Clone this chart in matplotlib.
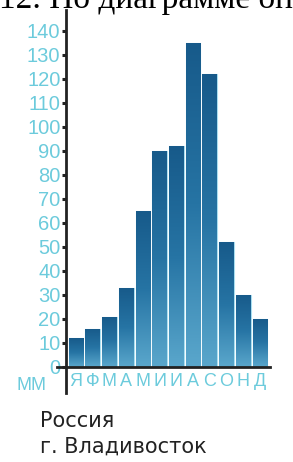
import matplotlib
matplotlib.use('Agg')
import numpy as np
import matplotlib.pyplot as plt
from matplotlib.colors import LinearSegmentedColormap

# Monthly precipitation, Vladivostok (mm)
months = ['Я', 'Ф', 'М', 'А', 'М', 'И', 'И', 'А', 'С', 'О', 'Н', 'Д']
precip = [12, 16, 21, 33, 65, 90, 92, 135, 122, 52, 30, 20]
yticks = list(range(0, 150, 10))

cyan = '#6ccbdc'
ink = '#222222'
sans = 'Liberation Sans'

fig = plt.figure(figsize=(2.93, 4.62), dpi=100)
ax = fig.add_axes([66 / 293, 1 - 367 / 462, 204 / 293, 357 / 462])

x = np.arange(len(months))
bars = ax.bar(x, precip, width=0.88, color='#2a7aaa', edgecolor='#a8def0', linewidth=0.8, zorder=2)

# vertical gradient inside every bar: dark at the top, lighter at the bottom
cmap = LinearSegmentedColormap.from_list('bar', ['#5aa7cc', '#2674a4', '#175a8a'])
grad = np.linspace(0, 1, 256).reshape(-1, 1)
for b in bars:
    x0, y0 = b.get_x(), b.get_y()
    im = ax.imshow(grad, cmap=cmap, origin='lower', aspect='auto', zorder=2.5,
                   extent=[x0, x0 + b.get_width(), y0, y0 + b.get_height()])
    im.set_clip_path(b)
ax.set_xlim(-0.6, 11.6)
ax.set_ylim(0, 148.75)

ax.set_yticks(yticks)
ax.set_yticklabels([str(v) for v in yticks], color=cyan, fontsize=14.5, family=sans)
ax.tick_params(axis='y', length=3, width=2.2, color=ink, pad=1)
ax.set_xticks(x)
ax.set_xticklabels(months, color=cyan, fontsize=13, family=sans)
ax.tick_params(axis='x', length=0, pad=4)

for s in ['top', 'right']:
    ax.spines[s].set_visible(False)
for s in ['left', 'bottom']:
    ax.spines[s].set_linewidth(2)
    ax.spines[s].set_color(ink)

# axis lines run a little past the origin
ax.plot([0, 0], [0, -0.072], transform=ax.transAxes, color=ink, lw=2, clip_on=False)
ax.plot([-0.045, 0], [0, 0], transform=ax.transAxes, color=ink, lw=2, clip_on=False)

fig.text(17 / 293, 1 - 385 / 462, 'ММ', color=cyan, fontsize=13, family=sans,
         va='center', ha='left')

# heading of the page, cut off by the top edge as in the scan
fig.text(-1 / 293, 1 - 8 / 462, '12. По диаграмме оп', family='Liberation Serif',
         fontsize=24, va='baseline', ha='left')

fig.text(40 / 293, 1 - 421 / 462, 'Россия', fontsize=15, color=ink,
         va='center', ha='left')
fig.text(40 / 293, 1 - 447 / 462, 'г. Владивосток', fontsize=15, color=ink,
         va='center', ha='left')

fig.savefig('out.png', dpi=100)
